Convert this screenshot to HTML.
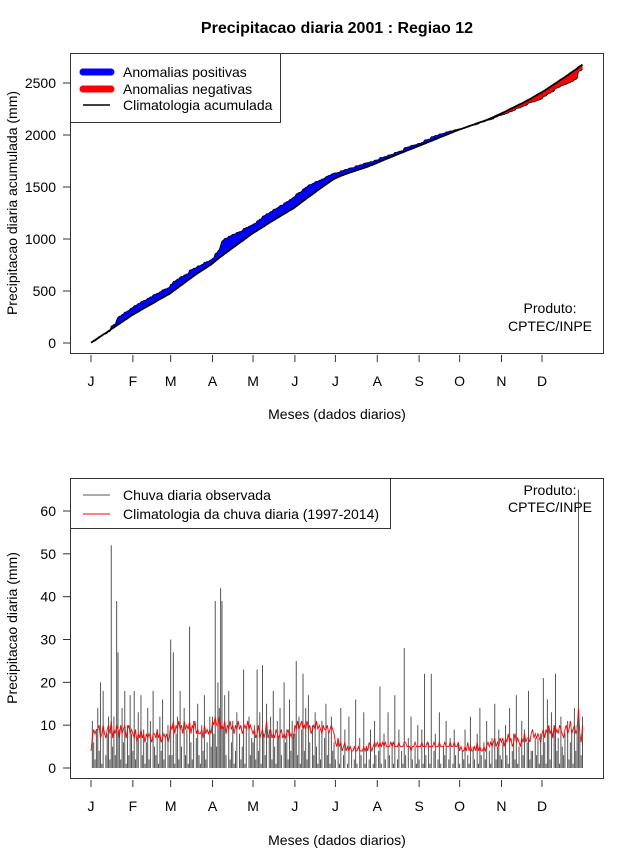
<!DOCTYPE html>
<html><head><meta charset="utf-8"><style>
body{margin:0;background:#fff;}
svg{display:block;font-family:"Liberation Sans",sans-serif;}
</style></head><body>
<svg id="c" width="640" height="850" viewBox="0 0 640 850"></svg>
<script>
const months = ["J","F","M","A","M","J","J","A","S","O","N","D"];
const monthStartDays = [1,32,60,91,121,152,182,213,244,274,305,335];
const topTicks = [0,500,1000,1500,2000,2500];
const bottomTicks = [0,10,20,30,40,50,60];
const obsDaily = [
0,11,6,2,9,14,4,20,1,18,0,3,8,12,2,52,5,12,3,39,27,9,2,14,6,18,1,10,3,17,8,
4,18,2,7,13,0,17,3,9,1,6,14,2,11,0,18,5,3,9,1,12,4,16,2,7,0,10,3,
30,3,27,1,8,12,2,18,5,0,14,3,9,1,33,6,2,11,0,7,15,3,1,10,4,17,2,6,0,12,5,
12,8,39,5,20,14,42,39,9,17,3,0,18,2,6,11,1,4,13,0,8,2,5,23,1,9,0,12,3,7,
6,10,2,23,4,13,1,24,8,3,15,0,9,12,2,18,5,1,11,7,14,3,0,20,6,9,2,16,4,11,8,
8,25,3,12,1,9,22,4,14,2,17,6,0,10,3,13,5,1,9,2,11,0,7,15,3,8,1,12,4,6,
2,0,6,1,14,0,3,9,0,1,12,0,4,0,2,16,1,0,7,3,0,13,1,5,0,2,9,0,1,11,3,
0,4,19,1,0,8,2,0,13,3,0,6,1,17,0,2,9,0,4,1,28,3,0,7,0,12,2,0,5,1,10,
2,0,9,1,22,3,0,6,1,22,0,4,8,0,2,13,1,0,5,3,11,0,2,7,0,1,9,3,0,6,
1,0,4,2,9,0,3,1,12,0,5,2,0,8,1,14,3,0,6,2,11,0,4,1,7,0,15,2,5,9,3,
2,6,0,10,3,1,14,0,4,8,2,17,1,5,0,11,3,9,0,6,18,2,4,4,0,7,3,7,1,8,
3,21,6,1,16,9,2,13,0,10,22,4,7,1,12,5,3,8,0,11,2,6,9,1,14,4,10,65,8,3,12];
const climDaily = [
4,7,9,8,9,9,10,7,8,10,8,7,9,10,8,11,7,9,8,10,9,7,10,8,9,10,7,9,10,8,9,
8,7,9,6,8,7,9,7,8,6,8,7,8,7,6,8,8,7,9,7,8,6,7,8,7,8,6,7,
10,9,11,8,10,9,11,9,10,8,11,9,10,9,11,8,10,9,11,8,9,8,8,9,7,10,8,9,8,9,8,
11,10,12,10,10,12,9,10,9,11,8,10,9,11,9,10,8,10,9,11,9,10,8,9,10,9,11,9,10,9,
8,9,7,8,10,7,8,9,7,8,11,7,8,9,7,8,7,9,8,7,8,9,7,8,7,8,9,7,8,7,7,
10,9,11,9,10,11,9,10,9,11,9,10,8,9,10,9,11,9,10,9,8,10,9,9,10,8,9,10,9,8,
6,5,7,5,6,4,5,6,4,5,4,5,4,4,5,4,4,5,4,4,4,5,4,5,4,6,5,4,5,6,5,
6,5,6,5,6,5,6,5,5,5,6,5,6,5,5,5,6,5,5,5,6,6,5,5,5,4,5,5,6,5,5,
5,5,6,5,5,5,6,5,5,5,5,6,5,5,5,6,5,5,5,6,5,5,5,6,5,5,6,5,5,6,
4,5,4,4,5,4,6,4,5,4,4,5,4,6,4,5,4,4,5,4,5,6,5,6,5,6,7,5,6,5,7,
6,7,5,7,6,8,6,7,5,6,8,6,7,6,5,7,6,8,6,7,7,6,8,9,7,8,7,8,7,6,
8,9,7,9,8,10,8,9,7,10,8,9,8,10,9,8,7,9,10,8,9,11,8,9,10,8,9,14,8,6,10];

const svg = document.getElementById('c');
const NS = 'http://www.w3.org/2000/svg';
function mk(tag, attrs, name, parent){
  const e = document.createElementNS(NS, tag);
  for (const k in attrs) e.setAttribute(k, attrs[k]);
  
  
  (parent||svg).appendChild(e);
  return e;
}
function txt(x,y,s,name,opts){
  opts = opts||{};
  const t = mk('text',{x:x,y:y,'font-size':opts.size||14,'text-anchor':opts.anchor||'middle',fill:'#000','font-weight':opts.bold?'bold':'normal'},name);
  if (opts.rot) t.setAttribute('transform','rotate(-90 '+x+' '+y+')');
  t.textContent = s;
  return t;
}
const xDay = d => 91 + (d-1)*(542-91)/334;
const yTop = v => 343 - v*(343-83)/2500;
const yBot = v => 768 - v*(768-511)/60;

const obsCum = [], climCum = [];
let a=0,b=0;
for (let i=0;i<obsDaily.length;i++){ a+=obsDaily[i]; b+=climDaily[i]; obsCum.push(a); climCum.push(b); }

txt(337,33,'Precipitacao diaria 2001 : Regiao 12','chart-title',{size:16,bold:true});

const n = obsCum.length;
let up=[], lo=[];
for (let i=0;i<n;i++){ up.push(xDay(i+1)+','+yTop(Math.max(obsCum[i],climCum[i]))); }
for (let i=n-1;i>=0;i--){ up.push(xDay(i+1)+','+yTop(climCum[i])); }
for (let i=0;i<n;i++){ lo.push(xDay(i+1)+','+yTop(Math.min(obsCum[i],climCum[i]))); }
for (let i=n-1;i>=0;i--){ lo.push(xDay(i+1)+','+yTop(climCum[i])); }
mk('polygon',{points:up.join(' '),fill:'#0000ff',stroke:'none'},'positive-anomaly-area');
mk('polygon',{points:lo.join(' '),fill:'#ff0000',stroke:'none'},'negative-anomaly-area');
mk('polyline',{points:obsCum.map((v,i)=>xDay(i+1)+','+yTop(v)).join(' '),fill:'none',stroke:'#000','stroke-width':0.8},'observed-cumulative-line');
mk('polyline',{points:climCum.map((v,i)=>xDay(i+1)+','+yTop(v)).join(' '),fill:'none',stroke:'#000','stroke-width':1.8},'climatology-cumulative-line');
mk('rect',{x:70.5,y:53.5,width:533,height:300,fill:'none',stroke:'#333','stroke-width':1},'top-plot-frame');
topTicks.forEach(v=>{
  mk('line',{x1:63,x2:70,y1:yTop(v),y2:yTop(v),stroke:'#333'},'top-y-tick');
  txt(56,yTop(v)+5,String(v),'top-y-tick-label',{anchor:'end'});
});
monthStartDays.forEach((d,i)=>{
  mk('line',{x1:xDay(d),x2:xDay(d),y1:355,y2:362,stroke:'#333'},'top-x-tick');
  txt(xDay(d),386,months[i],'top-x-tick-label');
});
txt(337,419,'Meses (dados diarios)','top-x-axis-title');
txt(17,203,'Precipitacao diaria acumulada (mm)','top-y-axis-title',{rot:true});
txt(550,313,'Produto:','top-product-label');
txt(550,331,'CPTEC/INPE','top-product-source');
mk('rect',{x:70.5,y:53.5,width:210,height:69,fill:'#fff',stroke:'#333'},'top-legend-box');
mk('line',{x1:83,x2:111,y1:72,y2:72,stroke:'#0000ff','stroke-width':7,'stroke-linecap':'round'},'legend-positive-swatch');
mk('line',{x1:83,x2:111,y1:89,y2:89,stroke:'#ff0000','stroke-width':7,'stroke-linecap':'round'},'legend-negative-swatch');
mk('line',{x1:83,x2:110,y1:105,y2:105,stroke:'#000','stroke-width':1.5},'legend-climatology-swatch');
txt(123,77,'Anomalias positivas','legend-positive-label',{anchor:'start'});
txt(123,94,'Anomalias negativas','legend-negative-label',{anchor:'start'});
txt(123,110,'Climatologia acumulada','legend-climatology-label',{anchor:'start'});

obsDaily.forEach((v,i)=>{
  mk('line',{x1:xDay(i+1),x2:xDay(i+1),y1:yBot(0),y2:yBot(v),stroke:'#555','stroke-width':1},'observed-rain-bar');
});
mk('polyline',{points:climDaily.map((v,i)=>xDay(i+1)+','+yBot(v)).join(' '),fill:'none',stroke:'#ff0000','stroke-width':0.9},'climatology-daily-line');
mk('rect',{x:70.5,y:478.5,width:533,height:300,fill:'none',stroke:'#333'},'bottom-plot-frame');
bottomTicks.forEach(v=>{
  mk('line',{x1:63,x2:70,y1:yBot(v),y2:yBot(v),stroke:'#333'},'bottom-y-tick');
  txt(56,yBot(v)+5,String(v),'bottom-y-tick-label',{anchor:'end'});
});
monthStartDays.forEach((d,i)=>{
  mk('line',{x1:xDay(d),x2:xDay(d),y1:780,y2:787,stroke:'#333'},'bottom-x-tick');
  txt(xDay(d),811,months[i],'bottom-x-tick-label');
});
txt(337,845,'Meses (dados diarios)','bottom-x-axis-title');
txt(17,628,'Precipitacao diaria (mm)','bottom-y-axis-title',{rot:true});
txt(550,495,'Produto:','bottom-product-label');
txt(550,512,'CPTEC/INPE','bottom-product-source');
mk('rect',{x:70.5,y:478.5,width:320,height:50,fill:'#fff',stroke:'#333'},'bottom-legend-box');
mk('line',{x1:83,x2:110,y1:495,y2:495,stroke:'#555'},'legend-observed-swatch');
mk('line',{x1:83,x2:110,y1:514,y2:514,stroke:'#ff0000'},'legend-clim-daily-swatch');
txt(123,500,'Chuva diaria observada','legend-observed-label',{anchor:'start'});
txt(123,519,'Climatologia da chuva diaria (1997-2014)','legend-clim-daily-label',{anchor:'start'});
</script>
</body></html>
